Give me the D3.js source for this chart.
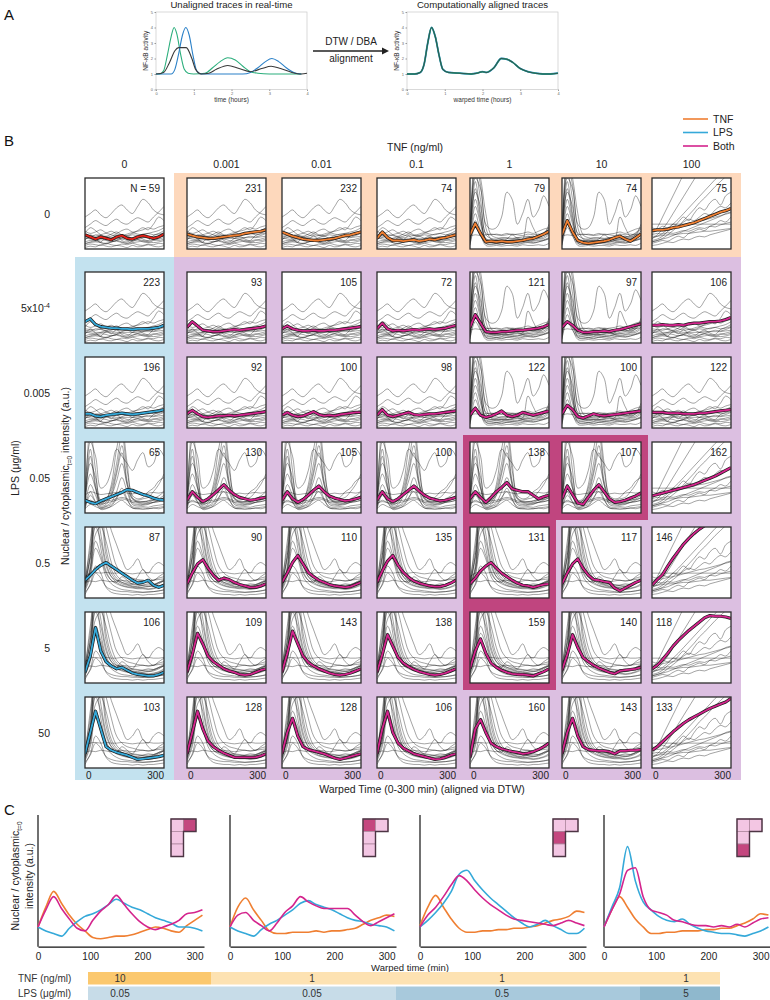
<!DOCTYPE html>
<html>
<head>
<meta charset="utf-8">
<script src="https://cdn.jsdelivr.net/npm/d3@7"></script>
<style>
  body { margin: 0; background: #fff; }
  svg { display: block; font-family: "Liberation Sans", Arial, Helvetica, sans-serif; }
</style>
</head>
<body>
<svg id="fig" width="770" height="1000"></svg>
<script>
// ---------- data: panel A (NF-kB activity vs time in hours) ----------
const greenTrace = [[0,1],[0.1,1.0],[0.2,1.2],[0.3,2.2],[0.4,3.4],[0.48,4.0],[0.55,3.6],[0.65,2.3],[0.75,1.3],[0.85,1.05],[1,1],[1.3,1.05],[1.5,1.4],[1.7,1.8],[1.9,2.05],[2.1,1.9],[2.3,1.5],[2.5,1.15],[2.7,1.05],[3,1.0],[3.3,1.0],[3.6,1.0],[3.85,1.0]];
const blueTrace = [[0,1],[0.4,1],[0.5,1.3],[0.6,2.3],[0.7,3.5],[0.79,4.0],[0.88,3.5],[0.98,2.2],[1.08,1.2],[1.2,1.0],[1.5,1.0],[2,1.0],[2.3,1.0],[2.5,1.1],[2.7,1.4],[2.9,1.8],[3.07,2.0],[3.25,1.8],[3.45,1.4],[3.65,1.1],[3.85,1.0]];
const meanTraceA = [[0,1],[0.2,1.1],[0.35,1.7],[0.5,2.5],[0.6,2.7],[0.8,2.7],[0.95,2.0],[1.05,1.3],[1.2,1.0],[1.4,1.05],[1.6,1.3],[1.9,1.55],[2.2,1.35],[2.5,1.15],[2.8,1.35],[3.05,1.5],[3.3,1.35],[3.6,1.1],[3.85,1.0],[4.0,1.05]];
const alignedTrace = [[0,1],[0.2,1],[0.35,1.1],[0.45,1.6],[0.55,3.0],[0.65,4.0],[0.75,3.4],[0.85,2.2],[0.95,1.3],[1.1,1.1],[1.4,1.05],[1.7,1.0],[1.85,1.05],[2.0,1.15],[2.1,1.1],[2.3,1.4],[2.5,2.0],[2.65,1.95],[2.8,1.75],[3.0,1.35],[3.2,1.15],[3.4,1.05],[3.6,1.0],[3.8,1.0],[4.0,1.05]];

// ---------- data: panel B grid ----------
const tnfDoses = ['0', '0.001', '0.01', '0.1', '1', '10', '100'];
const lpsDoses = ['0', '5x10', '0.005', '0.05', '0.5', '5', '50'];
const cellCounts = [
  ['N = 59', '231', '232', '74', '79', '74', '75'],
  ['223', '93', '105', '72', '121', '97', '106'],
  ['196', '92', '100', '98', '122', '100', '122'],
  ['65', '130', '105', '100', '138', '107', '162'],
  ['87', '90', '110', '135', '131', '117', '146'],
  ['106', '109', '143', '138', '159', '140', '118'],
  ['103', '128', '128', '106', '160', '143', '133']
];
const sampleTimes = [0,20,40,60,80,100,120,140,160,180,200,220,240,260,280,300];

// mean (DBA) traces, fraction of panel height
const meansLps0 = [
  [0.20,0.17,0.14,0.17,0.15,0.13,0.17,0.19,0.15,0.14,0.17,0.19,0.17,0.15,0.17,0.21],
  [0.21,0.19,0.17,0.16,0.15,0.15,0.16,0.17,0.18,0.19,0.20,0.22,0.23,0.24,0.25,0.27],
  [0.24,0.21,0.18,0.16,0.14,0.13,0.12,0.12,0.13,0.14,0.15,0.17,0.19,0.20,0.22,0.24],
  [0.15,0.24,0.16,0.12,0.12,0.11,0.12,0.13,0.11,0.12,0.14,0.13,0.15,0.16,0.18,0.20],
  [0.20,0.36,0.22,0.10,0.11,0.10,0.11,0.10,0.10,0.11,0.12,0.14,0.15,0.18,0.21,0.25],
  [0.20,0.40,0.24,0.12,0.09,0.08,0.09,0.10,0.11,0.13,0.16,0.18,0.14,0.11,0.16,0.21],
  [0.26,0.27,0.27,0.28,0.30,0.31,0.33,0.35,0.37,0.40,0.43,0.46,0.49,0.52,0.54,0.57]
];
const meansLps5e4 = [
  [0.30,0.34,0.26,0.23,0.22,0.21,0.21,0.20,0.20,0.19,0.20,0.20,0.20,0.21,0.22,0.25],
  [0.22,0.30,0.24,0.18,0.17,0.16,0.16,0.17,0.18,0.19,0.18,0.19,0.20,0.21,0.22,0.24],
  [0.20,0.24,0.20,0.18,0.17,0.17,0.18,0.17,0.17,0.18,0.18,0.19,0.20,0.21,0.22,0.23],
  [0.20,0.28,0.20,0.17,0.18,0.17,0.18,0.19,0.18,0.19,0.20,0.19,0.20,0.21,0.23,0.25],
  [0.22,0.40,0.28,0.16,0.15,0.15,0.16,0.16,0.17,0.18,0.18,0.19,0.20,0.21,0.23,0.26],
  [0.22,0.30,0.25,0.18,0.15,0.15,0.16,0.16,0.17,0.16,0.18,0.19,0.21,0.23,0.25,0.27],
  [0.25,0.25,0.26,0.25,0.25,0.26,0.25,0.27,0.28,0.28,0.29,0.30,0.30,0.31,0.33,0.36]
];
const meansLps0005 = [
  [0.20,0.20,0.17,0.16,0.18,0.19,0.20,0.21,0.20,0.19,0.20,0.21,0.22,0.23,0.24,0.26],
  [0.20,0.25,0.20,0.16,0.15,0.16,0.17,0.17,0.18,0.17,0.18,0.19,0.20,0.21,0.22,0.23],
  [0.18,0.22,0.18,0.16,0.17,0.20,0.23,0.19,0.17,0.18,0.17,0.19,0.20,0.21,0.22,0.22],
  [0.18,0.26,0.18,0.16,0.18,0.20,0.22,0.19,0.18,0.19,0.20,0.20,0.21,0.22,0.23,0.24],
  [0.18,0.28,0.18,0.15,0.17,0.20,0.24,0.18,0.16,0.18,0.22,0.20,0.18,0.20,0.22,0.24],
  [0.20,0.32,0.26,0.16,0.14,0.17,0.20,0.18,0.17,0.18,0.19,0.20,0.21,0.22,0.23,0.24],
  [0.22,0.22,0.22,0.21,0.21,0.21,0.20,0.20,0.20,0.21,0.21,0.22,0.23,0.24,0.25,0.26]
];
const meansLps005 = [
  [0.18,0.15,0.13,0.17,0.20,0.23,0.26,0.29,0.33,0.32,0.29,0.26,0.24,0.21,0.19,0.18],
  [0.18,0.30,0.22,0.16,0.20,0.26,0.33,0.40,0.32,0.26,0.22,0.20,0.18,0.19,0.21,0.22],
  [0.18,0.30,0.20,0.15,0.19,0.25,0.32,0.38,0.30,0.24,0.21,0.19,0.17,0.18,0.20,0.22],
  [0.18,0.30,0.20,0.16,0.20,0.26,0.32,0.38,0.31,0.25,0.21,0.19,0.17,0.18,0.20,0.22],
  [0.20,0.30,0.22,0.15,0.22,0.30,0.36,0.43,0.34,0.32,0.30,0.30,0.25,0.20,0.23,0.25],
  [0.20,0.38,0.26,0.14,0.12,0.22,0.32,0.40,0.30,0.20,0.15,0.16,0.18,0.21,0.24,0.28],
  [0.24,0.26,0.28,0.30,0.32,0.34,0.36,0.38,0.40,0.43,0.46,0.49,0.52,0.56,0.60,0.64]
];
const meansLps05 = [
  [0.25,0.32,0.40,0.46,0.50,0.45,0.40,0.35,0.30,0.25,0.21,0.22,0.25,0.18,0.15,0.18],
  [0.20,0.35,0.48,0.54,0.42,0.32,0.25,0.28,0.26,0.22,0.19,0.17,0.15,0.15,0.17,0.20],
  [0.22,0.35,0.50,0.60,0.48,0.36,0.30,0.25,0.22,0.19,0.17,0.16,0.15,0.16,0.19,0.22],
  [0.22,0.38,0.52,0.60,0.46,0.36,0.29,0.24,0.21,0.19,0.17,0.16,0.16,0.18,0.21,0.25],
  [0.20,0.28,0.38,0.45,0.50,0.42,0.35,0.30,0.25,0.21,0.18,0.17,0.15,0.17,0.19,0.20],
  [0.20,0.35,0.48,0.55,0.42,0.32,0.26,0.25,0.23,0.22,0.14,0.10,0.14,0.18,0.22,0.25],
  [0.18,0.26,0.33,0.45,0.56,0.66,0.76,0.84,0.91,0.97,1.02,1.08,1.12,1.16,1.20,1.24]
];
const meansLps5 = [
  [0.15,0.38,0.78,0.45,0.30,0.24,0.20,0.22,0.18,0.14,0.12,0.11,0.10,0.10,0.12,0.15],
  [0.15,0.40,0.70,0.55,0.38,0.30,0.25,0.20,0.17,0.15,0.12,0.11,0.12,0.15,0.18,0.20],
  [0.15,0.42,0.73,0.55,0.38,0.29,0.24,0.20,0.17,0.14,0.12,0.11,0.12,0.14,0.17,0.20],
  [0.15,0.40,0.68,0.52,0.36,0.28,0.23,0.19,0.16,0.14,0.12,0.11,0.12,0.14,0.17,0.20],
  [0.20,0.45,0.62,0.42,0.28,0.22,0.18,0.15,0.13,0.12,0.12,0.11,0.10,0.13,0.16,0.20],
  [0.18,0.40,0.68,0.50,0.36,0.30,0.25,0.21,0.18,0.15,0.13,0.17,0.18,0.19,0.20,0.22],
  [0.20,0.25,0.33,0.42,0.52,0.60,0.67,0.74,0.80,0.86,0.92,0.95,0.94,0.94,0.93,0.91]
];
const meansLps50 = [
  [0.20,0.50,0.80,0.55,0.30,0.25,0.22,0.20,0.18,0.15,0.12,0.13,0.14,0.15,0.16,0.18],
  [0.20,0.50,0.80,0.55,0.38,0.30,0.25,0.21,0.18,0.15,0.15,0.15,0.15,0.15,0.17,0.20],
  [0.20,0.50,0.70,0.45,0.30,0.26,0.24,0.22,0.20,0.17,0.14,0.12,0.14,0.16,0.18,0.20],
  [0.20,0.55,0.80,0.50,0.35,0.28,0.24,0.20,0.18,0.16,0.14,0.12,0.13,0.15,0.18,0.20],
  [0.15,0.55,0.68,0.50,0.35,0.30,0.27,0.25,0.23,0.22,0.20,0.21,0.23,0.26,0.30,0.35],
  [0.20,0.50,0.70,0.45,0.30,0.26,0.25,0.24,0.24,0.23,0.20,0.24,0.24,0.25,0.25,0.26],
  [0.25,0.30,0.37,0.44,0.51,0.57,0.63,0.68,0.72,0.76,0.80,0.84,0.87,0.90,0.93,0.98]
];
const meanTraces = [meansLps0, meansLps5e4, meansLps0005, meansLps005, meansLps05, meansLps5, meansLps50];

// single-cell background traces, grouped by response shape
const flatTraces = [
  [0.10,0.12,0.11,0.13,0.12,0.10,0.12,0.14,0.12,0.11,0.13,0.12,0.11,0.13,0.12,0.14],
  [0.18,0.17,0.20,0.19,0.17,0.18,0.21,0.19,0.18,0.20,0.19,0.21,0.22,0.20,0.21,0.23],
  [0.25,0.22,0.24,0.27,0.23,0.25,0.22,0.26,0.28,0.24,0.25,0.27,0.30,0.28,0.31,0.33],
  [0.05,0.07,0.06,0.05,0.08,0.06,0.05,0.07,0.06,0.08,0.06,0.05,0.07,0.06,0.08,0.07],
  [0.30,0.35,0.40,0.36,0.33,0.38,0.42,0.37,0.35,0.40,0.44,0.41,0.38,0.45,0.52,0.60],
  [0.14,0.16,0.15,0.15,0.15,0.16,0.15,0.15,0.15,0.15,0.16,0.16,0.16,0.16,0.17,0.18],
  [0.22,0.30,0.26,0.20,0.18,0.21,0.24,0.20,0.19,0.22,0.26,0.30,0.27,0.35,0.45,0.40],
  [0.02,0.04,0.03,0.06,0.04,0.03,0.05,0.04,0.02,0.05,0.03,0.04,0.06,0.04,0.03,0.05],
  [0.12,0.20,0.14,0.10,0.16,0.13,0.19,0.12,0.10,0.15,0.18,0.14,0.12,0.19,0.22,0.26],
  [0.45,0.50,0.55,0.48,0.44,0.50,0.58,0.62,0.55,0.50,0.60,0.70,0.65,0.55,0.50,0.48],
  [0.08,0.09,0.10,0.09,0.08,0.10,0.11,0.09,0.08,0.09,0.10,0.11,0.10,0.09,0.10,0.12],
  [0.16,0.14,0.13,0.15,0.17,0.14,0.13,0.16,0.18,0.15,0.14,0.16,0.18,0.17,0.19,0.22],
  [0.07,0.10,0.12,0.09,0.07,0.10,0.12,0.10,0.08,0.11,0.13,0.10,0.09,0.12,0.14,0.16],
  [0.20,0.19,0.18,0.20,0.22,0.20,0.18,0.19,0.21,0.23,0.21,0.20,0.22,0.24,0.26,0.30]
];
const tnfTraces = [
  [0.15,0.95,0.50,0.12,0.10,0.11,0.10,0.12,0.11,0.10,0.12,0.13,0.12,0.14,0.15,0.20],
  [0.20,1.10,0.70,0.20,0.15,0.14,0.16,0.15,0.14,0.16,0.15,0.17,0.18,0.16,0.20,0.25],
  [0.10,0.60,0.35,0.08,0.06,0.07,0.06,0.08,0.07,0.06,0.08,0.09,0.08,0.10,0.12,0.15],
  [0.25,0.80,0.60,0.22,0.20,0.21,0.20,0.22,0.20,0.21,0.22,0.24,0.22,0.25,0.28,0.30],
  [0.05,0.40,0.20,0.05,0.04,0.05,0.04,0.05,0.05,0.04,0.06,0.05,0.05,0.06,0.05,0.08],
  [0.18,0.20,0.19,0.20,0.21,0.20,0.19,0.20,0.21,0.20,0.19,0.21,0.20,0.21,0.20,0.22],
  [0.30,1.00,0.85,0.35,0.28,0.30,0.45,0.80,0.70,0.35,0.50,0.70,0.45,0.55,0.75,0.60],
  [0.12,0.70,0.40,0.15,0.12,0.13,0.12,0.14,0.20,0.15,0.14,0.45,0.30,0.18,0.20,0.35],
  [0.14,1.20,0.90,0.30,0.14,0.12,0.13,0.12,0.13,0.14,0.13,0.15,0.16,0.18,0.22,0.28],
  [0.08,0.50,0.25,0.10,0.09,0.08,0.09,0.10,0.09,0.10,0.11,0.10,0.11,0.12,0.13,0.16],
  [0.12,0.85,0.45,0.14,0.12,0.11,0.12,0.11,0.12,0.13,0.12,0.13,0.14,0.15,0.17,0.22],
  [0.06,0.30,0.18,0.08,0.07,0.08,0.07,0.08,0.09,0.08,0.09,0.10,0.09,0.10,0.12,0.14],
  [0.16,1.30,1.00,0.50,0.20,0.16,0.15,0.16,0.15,0.16,0.17,0.18,0.17,0.19,0.23,0.30]
];
const doubleTraces = [
  [0.15,0.90,0.40,0.12,0.15,0.30,0.60,0.95,0.45,0.20,0.15,0.16,0.15,0.18,0.20,0.25],
  [0.20,0.70,0.50,0.18,0.20,0.35,0.70,1.10,0.60,0.25,0.20,0.22,0.30,0.35,0.45,0.50],
  [0.10,0.40,0.25,0.08,0.10,0.15,0.30,0.50,0.30,0.12,0.10,0.11,0.12,0.15,0.16,0.18],
  [0.25,0.30,0.28,0.26,0.27,0.28,0.29,0.30,0.28,0.27,0.28,0.27,0.28,0.29,0.28,0.30],
  [0.05,0.25,0.15,0.05,0.06,0.10,0.20,0.35,0.20,0.07,0.06,0.05,0.06,0.07,0.06,0.08],
  [0.30,1.00,0.80,0.35,0.40,0.60,0.90,0.80,0.70,0.60,0.75,0.85,0.65,0.70,0.90,0.80],
  [0.18,0.55,0.35,0.15,0.18,0.25,0.45,0.70,0.40,0.20,0.18,0.20,0.22,0.30,0.40,0.55],
  [0.12,0.18,0.14,0.13,0.14,0.16,0.18,0.20,0.18,0.15,0.14,0.13,0.14,0.15,0.16,0.18],
  [0.16,1.20,0.60,0.14,0.18,0.40,0.90,1.20,0.70,0.22,0.16,0.15,0.17,0.20,0.24,0.30],
  [0.08,0.30,0.16,0.07,0.09,0.12,0.22,0.30,0.18,0.09,0.08,0.09,0.08,0.10,0.11,0.12],
  [0.12,0.80,0.35,0.10,0.12,0.25,0.55,0.85,0.40,0.14,0.12,0.12,0.13,0.15,0.18,0.22],
  [0.14,0.16,0.15,0.16,0.17,0.18,0.20,0.22,0.20,0.17,0.16,0.16,0.17,0.18,0.19,0.21],
  [0.06,0.12,0.09,0.06,0.07,0.09,0.14,0.18,0.12,0.07,0.06,0.07,0.06,0.07,0.08,0.09]
];
const lpsTraces = [
  [0.15,0.40,1.20,1.10,0.60,0.35,0.25,0.20,0.18,0.16,0.15,0.14,0.13,0.14,0.16,0.20],
  [0.20,0.55,1.00,0.80,0.45,0.30,0.25,0.22,0.20,0.19,0.18,0.17,0.16,0.17,0.20,0.25],
  [0.10,0.30,0.70,0.55,0.30,0.20,0.15,0.12,0.11,0.10,0.09,0.08,0.08,0.09,0.10,0.12],
  [0.25,0.70,1.30,1.20,1.00,0.70,0.45,0.35,0.30,0.28,0.26,0.25,0.24,0.25,0.28,0.30],
  [0.30,0.35,0.36,0.35,0.36,0.35,0.35,0.36,0.35,0.34,0.35,0.35,0.36,0.35,0.35,0.36],
  [0.05,0.20,0.45,0.35,0.15,0.08,0.06,0.05,0.05,0.04,0.05,0.04,0.05,0.05,0.06,0.07],
  [0.20,0.60,1.20,1.30,1.20,0.95,0.75,0.55,0.40,0.45,0.55,0.40,0.35,0.45,0.50,0.45],
  [0.12,0.35,0.80,0.60,0.35,0.25,0.22,0.30,0.25,0.20,0.30,0.40,0.30,0.25,0.30,0.35],
  [0.22,0.24,0.23,0.25,0.24,0.23,0.24,0.25,0.24,0.23,0.24,0.25,0.24,0.25,0.26,0.27],
  [0.18,0.80,1.30,0.90,0.50,0.30,0.22,0.18,0.16,0.15,0.14,0.15,0.16,0.18,0.22,0.26],
  [0.14,0.45,1.10,1.25,0.70,0.40,0.28,0.22,0.19,0.17,0.16,0.18,0.20,0.19,0.21,0.24],
  [0.16,0.60,1.25,0.70,0.38,0.25,0.20,0.17,0.15,0.14,0.13,0.13,0.12,0.13,0.15,0.18],
  [0.08,0.18,0.35,0.28,0.16,0.12,0.10,0.09,0.09,0.08,0.08,0.08,0.09,0.09,0.10,0.11],
  [0.20,0.40,0.90,1.00,0.80,0.50,0.32,0.25,0.22,0.20,0.19,0.18,0.18,0.19,0.22,0.24]
];
const rampTraces = [
  [0.15,0.18,0.22,0.28,0.35,0.42,0.50,0.58,0.66,0.74,0.82,0.90,0.98,1.05,1.10,1.15],
  [0.10,0.12,0.14,0.16,0.19,0.22,0.25,0.28,0.31,0.34,0.37,0.40,0.43,0.46,0.50,0.52],
  [0.25,0.26,0.27,0.29,0.30,0.32,0.34,0.36,0.38,0.40,0.41,0.43,0.45,0.47,0.49,0.51],
  [0.05,0.06,0.08,0.10,0.09,0.12,0.14,0.13,0.16,0.18,0.17,0.20,0.22,0.24,0.26,0.28],
  [0.35,0.35,0.35,0.35,0.35,0.35,0.35,0.35,0.35,0.35,0.35,0.35,0.35,0.35,0.35,0.35],
  [0.20,0.30,0.45,0.60,0.75,0.90,1.05,1.15,1.20,1.20,1.20,1.20,1.20,1.20,1.20,1.20],
  [0.12,0.14,0.18,0.25,0.30,0.38,0.45,0.40,0.50,0.58,0.55,0.65,0.70,0.62,0.75,0.80],
  [0.30,0.28,0.32,0.30,0.35,0.33,0.38,0.42,0.40,0.45,0.50,0.48,0.55,0.60,0.58,0.65],
  [0.08,0.10,0.12,0.11,0.15,0.18,0.16,0.22,0.25,0.28,0.26,0.32,0.35,0.40,0.38,0.45],
  [0.20,0.22,0.21,0.23,0.22,0.24,0.26,0.25,0.28,0.30,0.29,0.32,0.31,0.34,0.36,0.38],
  [0.15,0.20,0.28,0.38,0.50,0.62,0.74,0.86,0.98,1.10,1.20,1.25,1.25,1.25,1.25,1.25],
  [0.18,0.18,0.19,0.20,0.20,0.21,0.22,0.22,0.23,0.24,0.25,0.25,0.26,0.27,0.28,0.29],
  [0.10,0.12,0.15,0.20,0.26,0.32,0.40,0.48,0.56,0.65,0.72,0.80,0.88,0.95,1.02,1.10]
];
const traceKind = [
  ['flat','flat','flat','flat','tnf','tnf','ramp'],
  ['flat','flat','flat','flat','tnf','tnf','flat'],
  ['flat','flat','flat','flat','tnf','tnf','flat'],
  ['double','double','double','double','double','double','ramp'],
  ['lps','lps','lps','lps','lps','lps','ramp'],
  ['lps','lps','lps','lps','lps','lps','ramp'],
  ['lps','lps','lps','lps','lps','lps','ramp']
];
const tracesByKind = { flat: flatTraces, tnf: tnfTraces, double: doubleTraces, lps: lpsTraces, ramp: rampTraces };

// ---------- data: panel C ----------
const timesC = [0,15,30,45,60,75,90,105,120,135,150,165,180,195,210,225,240,255,270,285,300,315];
const cTnf10Lps005 = {
  tnf:  [0.15,0.30,0.42,0.33,0.24,0.17,0.12,0.07,0.06,0.07,0.08,0.08,0.09,0.11,0.13,0.15,0.14,0.12,0.11,0.16,0.20,0.24],
  both: [0.15,0.28,0.38,0.29,0.21,0.14,0.12,0.20,0.27,0.32,0.39,0.32,0.25,0.19,0.15,0.13,0.15,0.17,0.20,0.25,0.26,0.28],
  lps:  [0.15,0.12,0.10,0.08,0.14,0.19,0.23,0.25,0.28,0.32,0.36,0.33,0.30,0.28,0.25,0.22,0.20,0.18,0.15,0.15,0.14,0.12]
};
const cTnf1Lps005 = {
  tnf:  [0.15,0.30,0.37,0.28,0.20,0.12,0.10,0.10,0.11,0.11,0.11,0.12,0.11,0.12,0.12,0.13,0.14,0.17,0.20,0.22,0.24,0.23],
  both: [0.15,0.24,0.26,0.20,0.16,0.12,0.18,0.26,0.31,0.38,0.34,0.31,0.29,0.29,0.29,0.29,0.24,0.19,0.16,0.19,0.22,0.25],
  lps:  [0.15,0.12,0.10,0.08,0.13,0.17,0.20,0.24,0.28,0.33,0.35,0.32,0.30,0.28,0.25,0.22,0.20,0.19,0.17,0.16,0.15,0.12]
};
const cTnf1Lps05 = {
  tnf:  [0.16,0.30,0.39,0.30,0.21,0.14,0.11,0.11,0.12,0.12,0.13,0.13,0.14,0.14,0.15,0.16,0.18,0.20,0.21,0.23,0.27,0.26],
  both: [0.15,0.24,0.30,0.38,0.47,0.54,0.50,0.43,0.37,0.32,0.28,0.24,0.21,0.20,0.19,0.18,0.17,0.16,0.18,0.20,0.18,0.16],
  lps:  [0.15,0.20,0.26,0.33,0.42,0.55,0.58,0.50,0.43,0.37,0.32,0.27,0.22,0.18,0.15,0.17,0.20,0.16,0.13,0.10,0.10,0.14]
};
const cTnf1Lps5 = {
  tnf:  [0.15,0.28,0.38,0.30,0.21,0.15,0.10,0.10,0.11,0.11,0.12,0.12,0.12,0.13,0.13,0.14,0.14,0.16,0.18,0.21,0.25,0.24],
  both: [0.15,0.28,0.40,0.58,0.60,0.38,0.28,0.26,0.24,0.20,0.19,0.17,0.16,0.16,0.15,0.16,0.15,0.17,0.15,0.18,0.21,0.22],
  lps:  [0.15,0.30,0.45,0.76,0.50,0.34,0.28,0.23,0.20,0.19,0.21,0.17,0.14,0.12,0.11,0.10,0.10,0.09,0.08,0.10,0.12,0.15]
};
const panelCData = [cTnf10Lps005, cTnf1Lps005, cTnf1Lps05, cTnf1Lps5];
const cTicks = [0, 100, 200, 300];
const insetTnf = ['1', '10'];
const insetLps = ['0.05', '0.5', '5'];
const panelCConditions = [['10','0.05'], ['1','0.05'], ['1','0.5'], ['1','5']];
const tnfBarLabels = ['10', '1', '1', '1'];
const lpsBarLabels = ['0.05', '0.05', '0.5', '5'];

// ---------- colours ----------
const colTnf = '#ef7f32', colLps = '#35a9d9', colBoth = '#d4248d', colCtrl = '#e2231a';

const svg = d3.select('#fig');

// panel letters
[['A', 20], ['B', 146], ['C', 815]].forEach(([t, y]) => {
  svg.append('text').attr('x', 4).attr('y', y).text(t).style('font-size', '15px').attr('fill', '#111');
});

// ================= Panel A =================
function smallPlot(x0, title, xlabel, lines) {
  const w = 151, h = 77.5;
  const g = svg.append('g').attr('transform', `translate(${x0},12)`);
  const x = d3.scaleLinear().domain([0, 4]).range([0, w]);
  const y = d3.scaleLinear().domain([0, 5]).range([h, 0]);
  g.append('rect').attr('width', w).attr('height', h).attr('fill', 'none').attr('stroke', '#c9c9c9').attr('stroke-width', 0.7);
  const xa = g.append('g').attr('transform', `translate(0,${h})`).call(d3.axisBottom(x).ticks(4).tickSize(1.5).tickPadding(1.5));
  const ya = g.append('g').call(d3.axisLeft(y).ticks(5).tickSize(1.5).tickPadding(1.5));
  [xa, ya].forEach(a => {
    a.select('.domain').remove();
    a.selectAll('line').attr('stroke', '#999');
    a.selectAll('text').style('font-size', '4px').attr('fill', '#666');
  });
  const line = d3.line().x(d => x(d[0])).y(d => y(d[1])).curve(d3.curveMonotoneX);
  lines.forEach(l => {
    g.append('path').datum(l.data).attr('d', line).attr('fill', 'none')
      .attr('stroke', l.color).attr('stroke-width', l.width).attr('opacity', l.opacity || 1);
  });
  g.append('text').attr('x', w / 2).attr('y', -4).attr('text-anchor', 'middle').text(title).style('font-size', '9.6px').attr('fill', '#222');
  g.append('text').attr('x', w / 2).attr('y', h + 12).attr('text-anchor', 'middle').text(xlabel).style('font-size', '6.5px').attr('fill', '#333');
  g.append('text').attr('transform', `translate(-8,${h / 2}) rotate(-90)`).attr('text-anchor', 'middle')
    .text('NF-κB activity').style('font-size', '6.5px').attr('fill', '#333');
}
smallPlot(156, 'Unaligned traces in real-time', 'time (hours)', [
  { data: greenTrace, color: '#2bae7c', width: 1.1 },
  { data: blueTrace, color: '#2a80c8', width: 1.1 },
  { data: meanTraceA, color: '#3a3a3a', width: 1.1 }
]);
smallPlot(407, 'Computationally aligned traces', 'warped time (hours)', [
  { data: alignedTrace, color: '#2a80c8', width: 1.8 },
  { data: alignedTrace, color: '#2bae7c', width: 1.4 },
  { data: alignedTrace, color: '#2b4a4c', width: 1.1, opacity: 0.85 }
]);
// arrow
svg.append('line').attr('x1', 313).attr('x2', 383).attr('y1', 51).attr('y2', 51).attr('stroke', '#222').attr('stroke-width', 1.3);
svg.append('path').attr('d', 'M389,51 L382,47.5 L382,54.5 Z').attr('fill', '#222');
svg.append('text').attr('x', 351).attr('y', 45).attr('text-anchor', 'middle').text('DTW / DBA').style('font-size', '10px').attr('fill', '#222');
svg.append('text').attr('x', 351).attr('y', 62).attr('text-anchor', 'middle').text('alignment').style('font-size', '10px').attr('fill', '#222');

// ================= Panel B =================
const colX = [85, 187, 282, 377, 470, 562, 652];
const rowY = [178, 272, 357, 442, 527, 612, 697];
const cellW = 79, cellH = 71;
const gridRight = 741, splitX = 174, splitY = 257, gridBottom = 780;

svg.append('rect').attr('x', splitX).attr('y', 173).attr('width', gridRight - splitX).attr('height', splitY - 173).attr('fill', '#fdd8bc');
svg.append('rect').attr('x', 75).attr('y', splitY).attr('width', splitX - 75).attr('height', gridBottom - splitY).attr('fill', '#c3e2ef');
svg.append('rect').attr('x', splitX).attr('y', splitY).attr('width', gridRight - splitX).attr('height', gridBottom - splitY).attr('fill', '#dcbfe1');

// highlighted conditions (TNF 1/10 with LPS 0.05, TNF 1 with LPS 0.5 and 5)
const hl = 7;
const hx0 = colX[4] - hl, hx1 = colX[5] + cellW + hl, hxm = colX[4] + cellW + hl;
const hy0 = rowY[3] - hl, hy1 = rowY[3] + cellH + hl, hy2 = rowY[5] + cellH + hl;
svg.append('path').attr('d', `M${hx0},${hy0} L${hx1},${hy0} L${hx1},${hy1} L${hxm},${hy1} L${hxm},${hy2} L${hx0},${hy2} Z`)
  .attr('fill', '#c0457f');

const xCell = d3.scaleLinear().domain([0, 300]).range([0, cellW]);
const yCell = d3.scaleLinear().domain([0, 1]).range([cellH, 0]);
const cellLine = d3.line().x((d, i) => xCell(sampleTimes[i])).y(d => yCell(d));
const grayLine = d3.line().x((d, i) => xCell(sampleTimes[i])).y(d => yCell(d)).curve(d3.curveCatmullRom);

const defs = svg.append('defs');
defs.append('clipPath').attr('id', 'cellClip').append('rect').attr('width', cellW).attr('height', cellH);

lpsDoses.forEach((lps, r) => {
  tnfDoses.forEach((tnf, c) => {
    const g = svg.append('g').attr('transform', `translate(${colX[c]},${rowY[r]})`);
    g.append('rect').attr('width', cellW).attr('height', cellH).attr('fill', '#fff');
    const inner = g.append('g').attr('clip-path', 'url(#cellClip)');
    tracesByKind[traceKind[r][c]].forEach(tr => {
      inner.append('path').datum(tr).attr('d', grayLine).attr('fill', 'none')
        .attr('stroke', '#000').attr('stroke-opacity', 0.36).attr('stroke-width', 1);
    });
    const col = r === 0 && c === 0 ? colCtrl : r === 0 ? colTnf : c === 0 ? colLps : colBoth;
    inner.append('path').datum(meanTraces[r][c]).attr('d', cellLine).attr('fill', 'none')
      .attr('stroke', '#1a1a1a').attr('stroke-width', 3.2).attr('stroke-linejoin', 'round');
    inner.append('path').datum(meanTraces[r][c]).attr('d', cellLine).attr('fill', 'none')
      .attr('stroke', col).attr('stroke-width', 1.8).attr('stroke-linejoin', 'round');
    g.append('rect').attr('width', cellW).attr('height', cellH).attr('fill', 'none')
      .attr('stroke', '#2b2b2b').attr('stroke-width', 1.3);
    const leftLabel = c === 6 && r >= 4;
    g.append('text').attr('x', leftLabel ? 4 : cellW - 4).attr('y', 14)
      .attr('text-anchor', leftLabel ? 'start' : 'end').text(cellCounts[r][c])
      .style('font-size', '10px').attr('fill', '#222');
  });
});

// column headers and row labels
tnfDoses.forEach((t, c) => {
  svg.append('text').attr('x', colX[c] + cellW / 2).attr('y', 168).attr('text-anchor', 'middle')
    .text(t).style('font-size', '10.5px').attr('fill', '#222');
});
lpsDoses.forEach((l, r) => {
  const t = svg.append('text').attr('x', 50).attr('y', rowY[r] + cellH / 2 + 4).attr('text-anchor', 'end')
    .style('font-size', '10.5px').attr('fill', '#222');
  if (r === 1) {
    t.append('tspan').text(l);
    t.append('tspan').text('-4').attr('dy', -4).style('font-size', '7px');
  } else t.text(l);
});
// time ticks under last row
colX.forEach(x0 => {
  svg.append('text').attr('x', x0 + 1).attr('y', 779).text('0').style('font-size', '10px').attr('fill', '#222');
  svg.append('text').attr('x', x0 + cellW).attr('y', 779).attr('text-anchor', 'end').text('300').style('font-size', '10px').attr('fill', '#222');
});
svg.append('text').attr('x', 415).attr('y', 151).attr('text-anchor', 'middle').text('TNF (ng/ml)').style('font-size', '10.5px').attr('fill', '#222');
svg.append('text').attr('transform', 'translate(15,468) rotate(-90)').attr('dy', '0.35em').attr('text-anchor', 'middle')
  .text('LPS (μg/ml)').style('font-size', '10.5px').attr('fill', '#222');
const nucLabel = svg.append('text').attr('transform', 'translate(65,476) rotate(-90)').attr('dy', '0.35em').attr('text-anchor', 'middle')
  .style('font-size', '10.5px').attr('fill', '#222');
nucLabel.append('tspan').text('Nuclear / cytoplasmic');
nucLabel.append('tspan').text('t=0').attr('dy', 3).style('font-size', '6.5px');
nucLabel.append('tspan').text(' intensity (a.u.)').attr('dy', -3);
svg.append('text').attr('x', 422).attr('y', 793).attr('text-anchor', 'middle')
  .text('Warped Time (0-300 min) (aligned via DTW)').style('font-size', '10.5px').attr('fill', '#222');

// legend
[['TNF', colTnf], ['LPS', colLps], ['Both', colBoth]].forEach(([name, col], i) => {
  const y = 119 + i * 13.5;
  svg.append('line').attr('x1', 683).attr('x2', 708).attr('y1', y).attr('y2', y).attr('stroke', col).attr('stroke-width', 1.6);
  svg.append('text').attr('x', 713).attr('y', y + 3.5).text(name).style('font-size', '10.5px').attr('fill', '#222');
});

// ================= Panel C =================
const cLeft = [38, 230, 420, 604];
const cTop = 815, cBottom = 946.7, cW = 166;
const xC = d3.scaleLinear().domain([0, 318]).range([0, cW]);
const yC = d3.scaleLinear().domain([0, 1]).range([cBottom - cTop, 0]);
const cLine = d3.line().x((d, i) => xC(timesC[i])).y(d => yC(d)).curve(d3.curveMonotoneX);

panelCData.forEach((set, k) => {
  const g = svg.append('g').attr('transform', `translate(${cLeft[k]},${cTop})`);
  const xa = g.append('g').attr('transform', `translate(0,${cBottom - cTop})`)
    .call(d3.axisBottom(xC).tickValues(cTicks).tickSize(0).tickPadding(6).tickSizeOuter(0));
  xa.select('.domain').attr('stroke', '#111').attr('stroke-width', 1.2);
  xa.selectAll('text').style('font-size', '10px').attr('fill', '#222').style('font-family', 'inherit');
  g.append('line').attr('x1', 0).attr('x2', 0).attr('y1', 0).attr('y2', cBottom - cTop).attr('stroke', '#111').attr('stroke-width', 1.2);
  [['tnf', colTnf], ['lps', colLps], ['both', colBoth]].forEach(([key, col]) => {
    g.append('path').datum(set[key]).attr('d', cLine).attr('fill', 'none').attr('stroke', col).attr('stroke-width', 1.6);
  });
  // inset grid of conditions
  const cs = 12.5, ix = 133, iy = 4;
  const [tSel, lSel] = panelCConditions[k];
  const cells = [];
  insetTnf.forEach((t, ci) => cells.push({ t, l: insetLps[0], ci, ri: 0 }));
  insetLps.slice(1).forEach((l, ri) => cells.push({ t: insetTnf[0], l, ci: 0, ri: ri + 1 }));
  cells.forEach(cl => {
    g.append('rect').attr('x', ix + cl.ci * cs).attr('y', iy + cl.ri * cs).attr('width', cs).attr('height', cs)
      .attr('fill', cl.t === tSel && cl.l === lSel ? '#c4477f' : '#f3c6e3')
      .attr('stroke', '#a98298').attr('stroke-width', 0.7);
  });
  g.append('path').attr('d', `M${ix},${iy} h${2 * cs} v${cs} h${-cs} v${2 * cs} h${-cs} Z`)
    .attr('fill', 'none').attr('stroke', '#4d3544').attr('stroke-width', 1.4);
});
svg.append('text').attr('x', 410).attr('y', 971).attr('text-anchor', 'middle').text('Warped time (min)').style('font-size', '9.5px').attr('fill', '#222');
const cyl = svg.append('text').attr('transform', 'translate(15,876) rotate(-90)').attr('text-anchor', 'middle').attr('dy', '0.35em')
  .style('font-size', '10.5px').attr('fill', '#222');
cyl.append('tspan').text('Nuclear / cytoplasmic');
cyl.append('tspan').text('t=0').attr('dy', 3).style('font-size', '6.5px');
svg.append('text').attr('transform', 'translate(29,876) rotate(-90)').attr('text-anchor', 'middle').attr('dy', '0.35em')
  .text('intensity (a.u.)').style('font-size', '10.5px').attr('fill', '#222');

// condition bars
const barCenters = cLeft.map(l => l + 82);
const tnfEdges = [88, 211, 720], tnfBarColors = ['#fbc86e', '#fde2b2'];
const lpsEdges = [88, 396, 640, 720], lpsBarColors = ['#c7dce8', '#a8c9dc', '#8fb8cd'];
tnfBarColors.forEach((c, i) => svg.append('rect').attr('x', tnfEdges[i]).attr('y', 972).attr('width', tnfEdges[i + 1] - tnfEdges[i]).attr('height', 12.5).attr('fill', c));
lpsBarColors.forEach((c, i) => svg.append('rect').attr('x', lpsEdges[i]).attr('y', 986.5).attr('width', lpsEdges[i + 1] - lpsEdges[i]).attr('height', 13.5).attr('fill', c));
tnfBarLabels.forEach((t, i) => svg.append('text').attr('x', barCenters[i]).attr('y', 982).attr('text-anchor', 'middle').text(t).style('font-size', '10px').attr('fill', '#333'));
lpsBarLabels.forEach((t, i) => svg.append('text').attr('x', barCenters[i]).attr('y', 997).attr('text-anchor', 'middle').text(t).style('font-size', '10px').attr('fill', '#333'));
svg.append('text').attr('x', 18).attr('y', 982).text('TNF (ng/ml)').style('font-size', '10px').attr('fill', '#333');
svg.append('text').attr('x', 18).attr('y', 997).text('LPS (μg/ml)').style('font-size', '10px').attr('fill', '#333');
</script>
</body>
</html>
